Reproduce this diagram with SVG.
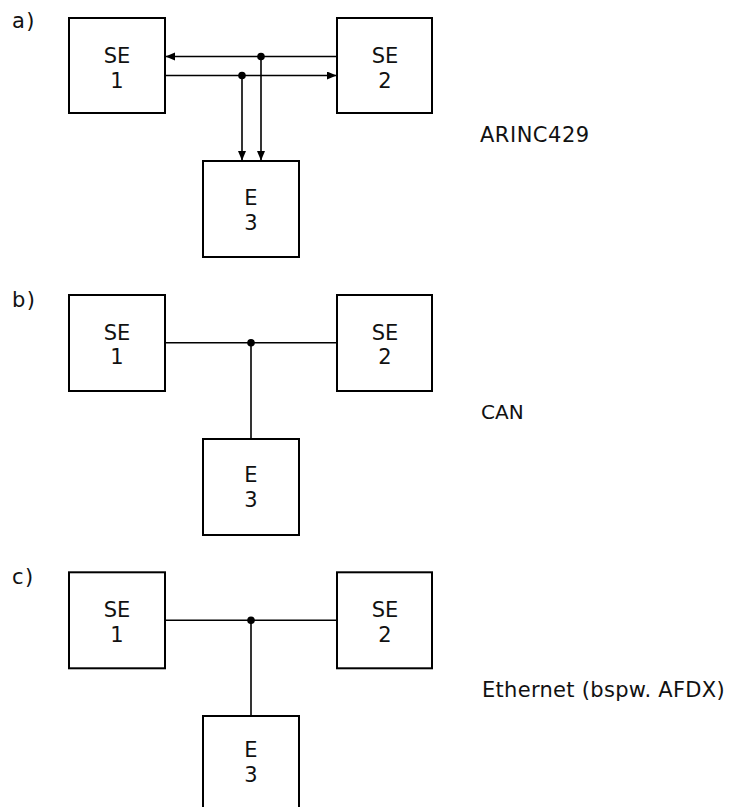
<svg xmlns="http://www.w3.org/2000/svg" width="737" height="807" viewBox="0 0 737 807">
<defs>
<marker id="arr" markerUnits="userSpaceOnUse" markerWidth="10" markerHeight="9" refX="9" refY="4" orient="auto">
<path d="M0,0 L9.5,4 L0,8 z" fill="#000"/>
</marker>
<style>
.box{fill:#fff;stroke:#000;stroke-width:2}
.t{font-family:"DejaVu Sans","Liberation Sans",sans-serif;font-size:21px;fill:#111;text-anchor:middle}
.lbl{font-family:"DejaVu Sans","Liberation Sans",sans-serif;font-size:21px;fill:#111}
.ln{fill:none;stroke:#000;stroke-width:1.6}
.dot{fill:#000}
</style>
</defs>
<rect width="737" height="807" fill="#fff"/>

<!-- Panel a -->
<text class="lbl" x="12" y="28" letter-spacing="1.5">a)</text>
<text class="lbl" x="480" y="142" letter-spacing="0.5">ARINC429</text>
<g id="connectors-a">
<line class="ln" x1="337" y1="56.5" x2="166" y2="56.5" marker-end="url(#arr)"/>
<line class="ln" x1="166" y1="75.5" x2="336" y2="75.5" marker-end="url(#arr)"/>
<line class="ln" x1="242" y1="75.5" x2="242" y2="160" marker-end="url(#arr)"/>
<line class="ln" x1="261" y1="56.5" x2="261" y2="160" marker-end="url(#arr)"/>
<circle class="dot" cx="261" cy="56.5" r="3.8"/>
<circle class="dot" cx="242" cy="75.5" r="3.8"/>
</g>
<g id="a-se1"><rect class="box" x="69" y="18" width="96" height="95"/><text class="t" x="117" y="63">SE</text><text class="t" x="117" y="88">1</text></g>
<g id="a-se2"><rect class="box" x="337" y="18" width="95" height="95"/><text class="t" x="385" y="63">SE</text><text class="t" x="385" y="88">2</text></g>
<g id="a-e3"><rect class="box" x="203" y="161" width="96" height="96"/><text class="t" x="251" y="205">E</text><text class="t" x="251" y="230">3</text></g>

<!-- Panel b -->
<text class="lbl" x="12" y="307" letter-spacing="1.5">b)</text>
<text class="lbl" x="481" y="419" style="font-size:20px">CAN</text>
<g id="connectors-b">
<line class="ln" x1="165" y1="342.7" x2="337" y2="342.7"/>
<line class="ln" x1="251" y1="342.7" x2="251" y2="439"/>
<circle class="dot" cx="251" cy="342.7" r="3.8"/>
</g>
<g id="b-se1"><rect class="box" x="69" y="295" width="96" height="96"/><text class="t" x="117" y="340">SE</text><text class="t" x="117" y="364">1</text></g>
<g id="b-se2"><rect class="box" x="337" y="295" width="95" height="96"/><text class="t" x="385" y="340">SE</text><text class="t" x="385" y="364">2</text></g>
<g id="b-e3"><rect class="box" x="203" y="439" width="96" height="96"/><text class="t" x="251" y="482">E</text><text class="t" x="251" y="507">3</text></g>

<!-- Panel c -->
<text class="lbl" x="12" y="584" letter-spacing="1.5">c)</text>
<text class="lbl" x="482" y="697" letter-spacing="0.3">Ethernet (bspw. AFDX)</text>
<g id="connectors-c">
<line class="ln" x1="165" y1="620.3" x2="337" y2="620.3"/>
<line class="ln" x1="251" y1="620.3" x2="251" y2="716"/>
<circle class="dot" cx="251" cy="620.3" r="3.8"/>
</g>
<g id="c-se1"><rect class="box" x="69" y="572.3" width="96" height="96"/><text class="t" x="117" y="617">SE</text><text class="t" x="117" y="641.5">1</text></g>
<g id="c-se2"><rect class="box" x="337" y="572.3" width="95" height="96"/><text class="t" x="385" y="617">SE</text><text class="t" x="385" y="641.5">2</text></g>
<g id="c-e3"><rect class="box" x="203" y="716" width="96" height="96"/><text class="t" x="251" y="757">E</text><text class="t" x="251" y="782">3</text></g>
</svg>
